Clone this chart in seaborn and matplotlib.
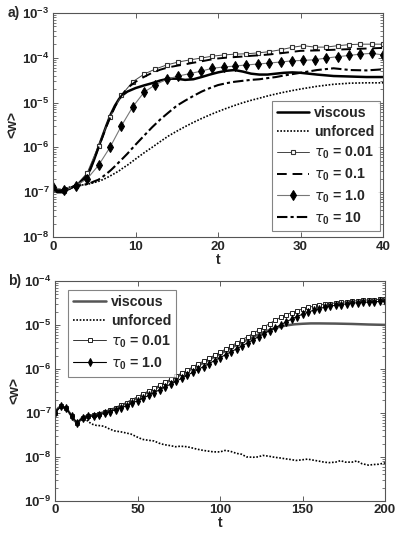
import numpy as np
import pandas as pd
import seaborn as sns
import matplotlib
matplotlib.use("Agg")
import matplotlib.pyplot as plt

# ---- panel a data (t in 0..40) ----
t_a = [0, 0.5, 1, 2, 3, 4, 4.5, 5, 5.5, 6, 6.5, 7, 7.5, 8, 8.5, 9, 10, 11, 12, 13, 14,
       15, 16, 17, 18, 19, 20, 21, 22, 23, 24, 25, 26, 27, 28, 29, 30, 32, 34, 36, 38, 40]
viscous_a = [1.3e-7, 1.0e-7, 1.0e-7, 1.2e-7, 1.5e-7, 2.2e-7, 3.2e-7, 5.5e-7, 1.0e-6, 1.8e-6,
             3.2e-6, 5.5e-6, 8.5e-6, 1.2e-5, 1.5e-5, 1.75e-5, 2.1e-5, 2.4e-5, 2.7e-5, 3.1e-5,
             3.4e-5, 3.4e-5, 3.2e-5, 3.3e-5, 3.7e-5, 4.2e-5, 4.7e-5, 5.1e-5, 5.3e-5, 4.9e-5,
             4.4e-5, 4.2e-5, 4.2e-5, 4.4e-5, 4.6e-5, 4.7e-5, 4.6e-5, 4.2e-5, 3.9e-5, 3.8e-5,
             3.7e-5, 3.7e-5]
tau01_a = [1.3e-7, 1.05e-7, 1.05e-7, 1.2e-7, 1.5e-7, 2.3e-7, 3.3e-7, 5.5e-7, 1.0e-6, 1.7e-6,
           3.0e-6, 5.0e-6, 8.0e-6, 1.2e-5, 1.6e-5, 2.1e-5, 2.9e-5, 3.7e-5, 4.6e-5, 5.4e-5,
           6.1e-5, 6.6e-5, 7.1e-5, 7.7e-5, 8.3e-5, 9.0e-5, 9.6e-5, 1.0e-4, 1.03e-4, 1.06e-4,
           1.1e-4, 1.13e-4, 1.17e-4, 1.22e-4, 1.28e-4, 1.35e-4, 1.42e-4, 1.45e-4, 1.5e-4,
           1.55e-4, 1.6e-4, 1.65e-4]
tau10_a = [1.3e-7, 1.1e-7, 1.1e-7, 1.25e-7, 1.4e-7, 1.5e-7, 1.6e-7, 1.75e-7, 1.9e-7, 2.2e-7,
           2.6e-7, 3.1e-7, 3.8e-7, 4.7e-7, 5.8e-7, 7.2e-7, 1.15e-6, 1.8e-6, 2.8e-6, 4.2e-6,
           6.0e-6, 8.5e-6, 1.1e-5, 1.4e-5, 1.75e-5, 2.1e-5, 2.45e-5, 2.7e-5, 2.9e-5, 3.05e-5,
           3.2e-5, 3.3e-5, 3.5e-5, 3.7e-5, 4.0e-5, 4.3e-5, 4.6e-5, 5.3e-5, 5.8e-5, 5.3e-5,
           5.2e-5, 5.5e-5]
unforced_a = [1.3e-7, 1.15e-7, 1.15e-7, 1.3e-7, 1.4e-7, 1.5e-7, 1.55e-7, 1.65e-7, 1.75e-7,
              1.9e-7, 2.1e-7, 2.35e-7, 2.65e-7, 3.0e-7, 3.5e-7, 4.0e-7, 5.5e-7, 7.5e-7, 1.0e-6,
              1.35e-6, 1.8e-6, 2.3e-6, 2.9e-6, 3.6e-6, 4.4e-6, 5.3e-6, 6.3e-6, 7.4e-6, 8.6e-6,
              9.9e-6, 1.12e-5, 1.25e-5, 1.4e-5, 1.55e-5, 1.7e-5, 1.85e-5, 2.0e-5, 2.3e-5,
              2.55e-5, 2.7e-5, 2.75e-5, 2.75e-5]

tm_a = np.linspace(0, 40, 30)  # marker sample times
tau001_a = [1.3e-7, 1.05e-7, 1.4e-7, 2.7e-7, 1.1e-6, 4.8e-6, 1.45e-5, 2.9e-5, 4.3e-5, 5.6e-5,
            6.9e-5, 8.0e-5, 8.9e-5, 9.8e-5, 1.08e-4, 1.15e-4, 1.2e-4, 1.22e-4, 1.28e-4,
            1.36e-4, 1.5e-4, 1.7e-4, 1.85e-4, 1.72e-4, 1.72e-4, 1.85e-4, 1.95e-4, 2.0e-4,
            2.0e-4, 2.0e-4]
tau1_a = [1.3e-7, 1.1e-7, 1.4e-7, 2.0e-7, 4.0e-7, 1.0e-6, 3.0e-6, 8.0e-6, 1.7e-5, 2.5e-5,
          3.3e-5, 3.9e-5, 4.4e-5, 5.0e-5, 5.8e-5, 6.2e-5, 6.5e-5, 6.9e-5, 7.2e-5, 7.6e-5,
          8.0e-5, 8.5e-5, 8.7e-5, 9.0e-5, 9.8e-5, 1.05e-4, 1.12e-4, 1.2e-4, 1.25e-4, 1.15e-4]

# ---- panel b data (t in 0..200) ----
t_vb = [0, 2, 4, 6, 8, 10, 12, 14, 16, 18, 20, 25, 30, 35, 40, 45, 50, 55, 60, 65, 70, 75,
        80, 85, 90, 95, 100, 105, 110, 115, 120, 125, 130, 135, 140, 145, 150, 155, 160,
        170, 180, 190, 200]
viscous_b = [1.0e-7, 1.3e-7, 1.4e-7, 1.3e-7, 1.1e-7, 8.5e-8, 6.5e-8, 6.0e-8, 7.5e-8, 8.3e-8,
             8.5e-8, 9.2e-8, 1.05e-7, 1.22e-7, 1.45e-7, 1.8e-7, 2.2e-7, 2.8e-7, 3.4e-7,
             4.5e-7, 5.5e-7, 7.0e-7, 8.7e-7, 1.1e-6, 1.38e-6, 1.75e-6, 2.2e-6, 2.75e-6,
             3.5e-6, 4.3e-6, 5.3e-6, 6.5e-6, 7.7e-6, 8.8e-6, 9.7e-6, 1.03e-5, 1.06e-5,
             1.08e-5, 1.08e-5, 1.07e-5, 1.05e-5, 1.02e-5, 1.0e-5]

t_ub = [0, 2, 4, 6, 8, 10, 12, 14, 16, 18, 20, 22, 25, 28, 30, 33, 36, 40, 43, 46, 50, 53,
        56, 60, 63, 66, 70, 73, 76, 80, 83, 86, 90, 93, 96, 100, 103, 106, 110, 113, 116,
        120, 123, 126, 130, 133, 136, 140, 143, 146, 150, 153, 156, 160, 163, 166, 170,
        173, 176, 180, 183, 186, 190, 193, 196, 200]
unforced_b = [1.0e-7, 1.3e-7, 1.4e-7, 1.3e-7, 1.1e-7, 8.5e-8, 6.5e-8, 6.0e-8, 7.0e-8, 7.2e-8,
              6.5e-8, 5.6e-8, 5.2e-8, 5.1e-8, 4.9e-8, 4.3e-8, 3.9e-8, 3.7e-8, 3.5e-8, 3.3e-8,
              2.8e-8, 2.5e-8, 2.4e-8, 2.3e-8, 2.05e-8, 1.9e-8, 1.8e-8, 1.7e-8, 1.75e-8,
              1.7e-8, 1.6e-8, 1.5e-8, 1.4e-8, 1.35e-8, 1.3e-8, 1.3e-8, 1.4e-8, 1.35e-8,
              1.2e-8, 1.15e-8, 1.0e-8, 9.8e-9, 1.0e-8, 1.08e-8, 1.03e-8, 9.8e-9, 9.5e-9,
              9.0e-9, 8.7e-9, 8.3e-9, 8.6e-9, 8.9e-9, 8.5e-9, 8.0e-9, 7.6e-9, 7.4e-9, 7.6e-9,
              8.2e-9, 7.6e-9, 7.6e-9, 8.1e-9, 7.0e-9, 6.5e-9, 6.7e-9, 6.8e-9, 7.3e-9]

tm_b = np.linspace(0, 200, 61)  # marker sample times
tau001_b = [1.0e-7, 1.4e-7, 1.3e-7, 8.5e-8, 6.0e-8, 7.5e-8, 8.5e-8, 9.0e-8, 9.5e-8, 1.05e-7,
            1.15e-7, 1.3e-7, 1.5e-7, 1.7e-7, 2.0e-7, 2.3e-7, 2.7e-7, 3.1e-7, 3.6e-7, 4.2e-7,
            5.0e-7, 5.8e-7, 6.8e-7, 8.0e-7, 9.3e-7, 1.1e-6, 1.3e-6, 1.5e-6, 1.75e-6, 2.05e-6,
            2.4e-6, 2.8e-6, 3.3e-6, 3.9e-6, 4.6e-6, 5.4e-6, 6.4e-6, 7.6e-6, 9.0e-6, 1.07e-5,
            1.27e-5, 1.48e-5, 1.7e-5, 1.9e-5, 2.1e-5, 2.3e-5, 2.5e-5, 2.65e-5, 2.8e-5,
            2.95e-5, 3.05e-5, 3.15e-5, 3.25e-5, 3.35e-5, 3.45e-5, 3.55e-5, 3.6e-5, 3.7e-5,
            3.75e-5, 3.8e-5, 3.85e-5]
tau1_b = [1.0e-7, 1.4e-7, 1.3e-7, 8.5e-8, 6.0e-8, 7.8e-8, 8.3e-8, 8.5e-8, 9.0e-8, 9.8e-8,
          1.07e-7, 1.18e-7, 1.3e-7, 1.45e-7, 1.65e-7, 1.9e-7, 2.15e-7, 2.5e-7, 2.9e-7,
          3.35e-7, 3.9e-7, 4.5e-7, 5.2e-7, 6.1e-7, 7.1e-7, 8.3e-7, 9.7e-7, 1.13e-6, 1.32e-6,
          1.55e-6, 1.8e-6, 2.1e-6, 2.45e-6, 2.85e-6, 3.35e-6, 3.9e-6, 4.6e-6, 5.4e-6, 6.3e-6,
          7.4e-6, 8.6e-6, 1.0e-5, 1.17e-5, 1.35e-5, 1.55e-5, 1.75e-5, 1.95e-5, 2.15e-5,
          2.35e-5, 2.5e-5, 2.65e-5, 2.8e-5, 2.9e-5, 3.0e-5, 3.1e-5, 3.2e-5, 3.25e-5, 3.3e-5,
          3.35e-5, 3.4e-5, 3.45e-5]

sns.set_style("ticks")
plt.rcParams["font.family"] = ["Liberation Sans", "DejaVu Sans"]
plt.rcParams["font.weight"] = "bold"
plt.rcParams["mathtext.fontset"] = "custom"
plt.rcParams["mathtext.rm"] = "Liberation Sans:bold"
plt.rcParams["mathtext.bf"] = "Liberation Sans:bold"
plt.rcParams["mathtext.it"] = "DejaVu Sans:italic:weight=normal"


def line(ax, t, y, label, **kw):
    df = pd.DataFrame({"t": t, "w": y})
    sns.lineplot(data=df, x="t", y="w", ax=ax, label=label, estimator=None, sort=False, **kw)


def style_axis(ax, xmax, ymin, ymax, xticks):
    ax.set_yscale("log")
    ax.set_xlim(0, xmax)
    ax.set_ylim(ymin, ymax)
    ax.set_xticks(xticks)
    ax.set_xticklabels([str(x) for x in xticks], fontsize=9.5, fontweight="bold")
    exps = range(int(np.log10(ymin)), int(np.log10(ymax)) + 1)
    ax.set_yticks([10.0 ** e for e in exps])
    ax.set_yticklabels([r"$\mathbf{10^{%d}}$" % e for e in exps], fontsize=9.5)
    ax.tick_params(which="both", direction="in", top=True, right=True, color="#444444")
    ax.tick_params(which="major", length=3.5, width=0.6, pad=2.5)
    ax.tick_params(which="minor", length=2, width=0.5)
    ax.set_xlabel("t", fontsize=10, fontweight="bold", labelpad=0)
    ax.set_ylabel("<w>", fontsize=10, fontweight="bold", labelpad=2)
    for s in ax.spines.values():
        s.set_color("#555555")
        s.set_linewidth(0.8)


def add_legend(ax, loc, anchor):
    leg = ax.legend(loc=loc, bbox_to_anchor=anchor, borderaxespad=0, fontsize=10.2,
                    frameon=True, fancybox=False, edgecolor="#666666", handlelength=2.3,
                    borderpad=0.35, labelspacing=0.38, handletextpad=0.35)
    leg.get_frame().set_linewidth(0.8)
    return leg


fig = plt.figure(figsize=(3.99, 5.34), dpi=100)
ax1 = fig.add_axes([0.133, 0.556, 0.827, 0.420])
ax2 = fig.add_axes([0.138, 0.062, 0.827, 0.412])

tau = r"$\tau_{\mathbf{0}}$"

line(ax1, t_a, viscous_a, "viscous", color="black", linewidth=1.8)
line(ax1, t_a, unforced_a, "unforced", color="black", linewidth=1.2, linestyle=(0, (1, 1)))
line(ax1, tm_a, tau001_a, tau + " = 0.01", color="#444444", linewidth=0.7, marker="s",
     markersize=3, markerfacecolor="white", markeredgecolor="#333333", markeredgewidth=0.8)
line(ax1, t_a, tau01_a, tau + " = 0.1", color="black", linewidth=1.4, linestyle=(0, (5, 3)))
line(ax1, tm_a, tau1_a, tau + " = 1.0", color="#777777", linewidth=0.8, marker="d",
     markersize=5, markerfacecolor="black", markeredgecolor="black")
line(ax1, t_a, tau10_a, tau + " = 10", color="black", linewidth=1.5, linestyle=(0, (5, 1.5, 1.5, 1.5)))
style_axis(ax1, 40, 1e-8, 1e-3, [0, 10, 20, 30, 40])
add_legend(ax1, "lower right", (0.99, 0.025))

line(ax2, t_vb, viscous_b, "viscous", color="#555555", linewidth=1.8)
line(ax2, t_ub, unforced_b, "unforced", color="black", linewidth=1.2, linestyle=(0, (1, 1)))
line(ax2, tm_b, tau001_b, tau + " = 0.01", color="#333333", linewidth=0.7, marker="s",
     markersize=2.5, markerfacecolor="white", markeredgecolor="#222222", markeredgewidth=0.7)
line(ax2, tm_b, tau1_b, tau + " = 1.0", color="black", linewidth=0.8, marker="d",
     markersize=4, markerfacecolor="black", markeredgecolor="black")
style_axis(ax2, 200, 1e-9, 1e-4, [0, 50, 100, 150, 200])
add_legend(ax2, "upper left", (0.04, 0.96))

fig.text(0.02, 0.976, "a)", fontsize=10, fontweight="bold", va="center")
fig.text(0.02, 0.474, "b)", fontsize=10, fontweight="bold", va="center")

fig.savefig("out.png", dpi=100)
